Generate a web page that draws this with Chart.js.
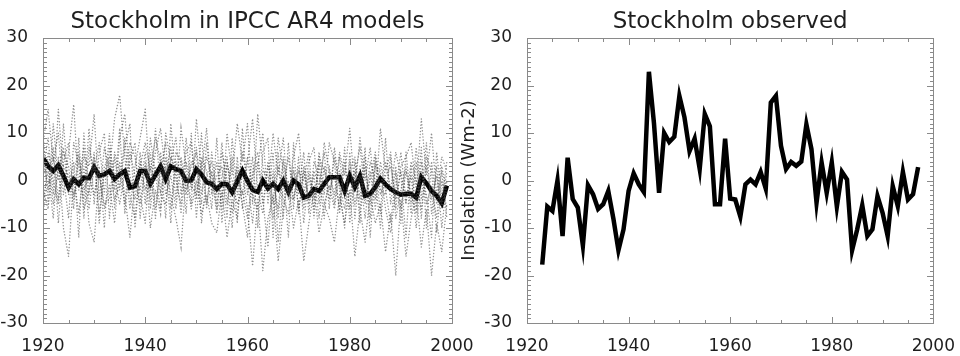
<!DOCTYPE html>
<html>
<head>
<meta charset="utf-8">
<script src="https://cdn.jsdelivr.net/npm/chart.js@4.4.1/dist/chart.umd.min.js"></script>
<style>
  html, body { margin: 0; padding: 0; background: #fff; }
  #wrap { position: relative; width: 960px; height: 356px; overflow: hidden; }
  .panel { position: absolute; top: 0; height: 356px; }
  #left { left: 0; width: 480px; }
  #right { left: 440px; width: 520px; }
</style>
</head>
<body>
<div id="wrap">
  <div class="panel" id="left"><canvas id="modelChart" width="480" height="356"></canvas></div>
  <div class="panel" id="right"><canvas id="obsChart" width="520" height="356"></canvas></div>
</div>
<script>
// Insolation anomalies (Wm-2)
const modelStart = 1920;
const obsStart = 1923;

// multi-model mean (thick line), 1920-1999
const modelMean = [
  4.8, 3.0, 2.0, 3.2, 1.0, -1.5, 0.3, -0.8, 0.6, 0.5,
  2.8, 1.0, 1.3, 2.0, 0.3, 1.3, 2.0, -1.5, -1.2, 2.0,
  2.0, -0.7, 1.2, 3.0, 0.3, 3.0, 2.4, 2.0, -0.1, 0.0,
  2.4, 1.3, -0.4, -0.7, -1.8, -0.7, -0.8, -2.5, -0.2, 2.1,
  -0.1, -2.0, -2.4, 0.0, -1.7, -0.7, -1.8, 0.0, -2.4, 0.0,
  -0.8, -3.6, -3.2, -1.8, -2.2, -0.7, 0.7, 0.7, 0.7, -2.2,
  1.0, -1.4, 1.0, -3.2, -2.8, -1.4, 0.4, -0.8, -1.8, -2.5,
  -3.0, -2.8, -2.8, -3.6, 0.7, -0.6, -2.2, -3.2, -4.8, -1.1
];

// individual model runs (dotted), 1920-1999
const model1 = [
  8, 15, 4, 10, -3, 6, 16, -2, 5, 3,
  14, -4, 7, 2, 13, 18, 5, -6, 3, 9,
  15, -2, 6, 11, 1, 7, -4, 11, 3, -5,
  13, 2, 11, -3, 4, -6, 10, 1, 12, 4,
  12, -5, 14, 3, -2, 10, 1, 9, -4, 5,
  10, -3, 4, 7, -5, 8, 2, -3, 6, 1,
  11, -2, 9, 0, 7, -4, 11, 2, 6, -6,
  3, 5, 8, -2, 13, 1, 10, -3, 5, 2
];
const model2 = [
  -4, 2, -8, 5, -10, -16, 1, -7, 3, -9,
  -13, 2, -6, -1, -9, 4, -3, -12, 0, -5,
  3, -10, -2, -7, 5, -3, -8, -14, 1, -6,
  0, -7, -3, -9, -11, -2, -12, -4, -8, 2,
  -6, -18, -4, -19, -8, -3, -17, -6, 0, -10,
  -4, -17, -9, -2, -11, -5, -8, -13, -3, -9,
  -2, -16, -6, -13, -3, -9, -5, -15, -7, -20,
  -4, -16, -8, -3, -14, -6, -20, -9, -15, -5
];
const model3 = [
  10, -5, 12, 0, 6, 3, -6, 9, -8, 7,
  2, 8, -3, 10, -6, 9, 14, 1, -4, 6,
  -5, 9, 1, -6, 10, 4, 9, -3, 6, 8,
  -4, 10, -6, 6, -3, 8, -5, 5, -9, 11,
  -3, 5, -10, 6, 9, -12, 6, -8, 8, -6,
  5, -9, 1, -6, 6, -3, 8, 4, -7, 4,
  -6, 4, -9, 5, -8, 4, -7, 9, -5, 3,
  -9, 6, -5, 7, -4, 8, -7, 3, -10, 0
];
const model4 = [
  2, 9, -3, 15, 1, -8, 8, 3, -4, 11,
  -5, 6, 10, -8, 5, -2, 7, 12, -10, 3,
  8, 2, 9, 4, -8, 12, 0, -5, 9, -2,
  7, -3, 5, 1, -7, 6, 0, -10, 5, -6,
  4, 13, -2, -7, 4, -5, 9, 2, -12, 8,
  -7, 3, -4, 2, -1, 6, -6, 7, -2, -10,
  6, -8, 3, -5, 4, 0, -10, 4, -2, 6,
  1, -12, 3, -6, 7, -10, 4, -5, 2, -8
];
const model5 = [
  -8, 6, 0, -5, 12, -2, 4, -12, 10, -3,
  6, -9, 3, 5, -2, 11, -7, 4, 8, -8,
  4, -4, 11, -2, 3, -9, 6, 4, -7, 10,
  -8, 5, 2, -6, 9, -9, 4, -3, 3, -5,
  -12, 2, 6, -4, -14, 2, -8, 4, -3, 2,
  -3, 6, -7, 4, 1, -8, 3, -5, 5, -4,
  2, 5, -4, 7, -12, 3, 2, -6, -11, -2,
  6, -4, 1, -10, 2, -3, -12, 6, -4, 4
];
const model6 = [
  5, -2, 7, -9, 4, 8, -4, 5, -2, 1,
  -3, 3, -10, 7, 1, -5, 2, 8, 5, -3,
  -9, 6, -6, 2, 8, -6, 4, 1, -3, 4,
  3, -5, 8, -2, 1, 3, -8, 9, -3, 6,
  0, -9, 3, 10, -5, 6, -13, -1, 5, -4,
  2, 0, 6, -8, 5, 2, -2, 1, -6, 7,
  -9, 1, 7, -3, 0, 6, -2, -3, 5, -8,
  -2, 3, -7, 4, -8, 5, 2, -11, 0, -6
];
const model7 = [
  1, 4, -5, 2, 7, -3, 2, 6, -6, -2,
  5, -7, 2, 4, -4, -1, 9, -3, -8, 4,
  -2, 3, -8, 6, -3, 1, -6, 5, -2, 3,
  6, -9, 1, 4, -5, 1, 5, -7, 2, -3,
  5, -3, -6, 2, 1, -8, 3, -4, -7, 3,
  -6, 2, -5, 1, -8, 3, -4, 5, -1, -6,
  4, -5, 1, -8, 2, -6, 4, -2, -9, 1,
  -6, 2, -3, -7, 4, -5, -1, -8, 3, -3
];
const model8 = [
  -2, -6, 5, -4, 3, 1, -3, 0, 7, -6,
  3, 1, -5, -4, 6, 2, -5, 6, 1, -2,
  6, -6, 3, -3, -5, 5, 2, -7, 4, -1,
  -3, 4, -5, 2, -6, -3, 3, 0, -5, -2,
  -8, 1, 4, -5, 3, 0, -6, 5, -3, -4,
  3, -6, 2, -4, 3, -5, -1, -6, 2, -3,
  -3, 2, -6, 3, -5, 5, -3, 1, 3, -4,
  2, -5, 4, 0, -6, 3, -4, 1, -6, 2
];
const modelRuns = [model1, model2, model3, model4, model5, model6, model7, model8];

// Stockholm observations, 1923-1997
const observed = [
  -17.7, -5.5, -6.4, 0, -11.7, 4.8, -3.9, -5.7, -13.7, -1.0,
  -2.9, -6, -5, -2.2, -8, -14.7, -10.3, -2.2, 1.5, -0.8,
  -2.4, 22.9, 12, -2.6, 10, 8.1, 9.2, 17.8, 13.3, 6.2,
  8.8, 2.4, 14, 11.4, -5, -5, 8.8, -3.8, -4, -7.6,
  -0.8, 0.2, -0.8, 1.8, -1.7, 16.4, 17.8, 7.3, 2.4, 3.9,
  3.1, 4, 11.8, 6.6, -4.7, 3.8, -2.6, 3.8, -5.5, 1.8,
  0.2, -14.7, -10.3, -5.2, -11.7, -10.3, -3.3, -6.8, -11.7, -1.2,
  -5.4, 1.8, -4, -2.9, 2.8
];

const xTicks = [1920, 1940, 1960, 1980, 2000];
const yTicks = [-30, -20, -10, 0, 10, 20, 30];

const toPoints = (vals, start) => vals.map((v, i) => ({ x: start + i, y: v }));

const FONT = '"DejaVu Sans", sans-serif';
const INK = '#1e1e1e';

// box around the plot with inward ticks on all four sides, plus the panel title
const frameTicks = {
  id: 'frameTicks',
  afterDraw(chart, args, opts) {
    const { ctx, chartArea: a, scales } = chart;
    const xs = scales.x, ys = scales.y;
    const l = Math.round(a.left), t = Math.round(a.top);
    const r = Math.round(a.right), b = Math.round(a.bottom);
    ctx.save();
    ctx.fillStyle = '#8a8a8a';
    // frame
    ctx.fillRect(l, t, r - l + 1, 1);
    ctx.fillRect(l, b, r - l + 1, 1);
    ctx.fillRect(l, t, 1, b - t + 1);
    ctx.fillRect(r, t, 1, b - t + 1);
    // x ticks every 5 years, longer every 20
    for (let yr = 1920; yr <= 2000; yr += 5) {
      const px = Math.round(xs.getPixelForValue(yr));
      const len = yr % 20 === 0 ? 6 : 3;
      ctx.fillRect(px, b - len, 1, len);
      ctx.fillRect(px, t + 1, 1, len);
    }
    // y ticks every unit, longer every 10
    for (let v = -30; v <= 30; v++) {
      const py = Math.round(ys.getPixelForValue(v));
      const len = v % 10 === 0 ? 6 : 3;
      ctx.fillRect(l + 1, py, len, 1);
      ctx.fillRect(r - len, py, len, 1);
    }

    ctx.fillStyle = INK;
    ctx.font = '23px ' + FONT;
    ctx.textAlign = 'center';
    ctx.textBaseline = 'alphabetic';
    ctx.fillText(opts.text, (a.left + a.right) / 2, 28);
    ctx.restore();
  }
};

function makeOptions(title, yWidth, padRight, yTitle) {
  return {
    responsive: false,
    animation: false,
    layout: { padding: { top: 38, right: padRight, bottom: 0, left: 0 } },
    plugins: {
      legend: { display: false },
      tooltip: { enabled: false },
      frameTicks: { text: title }
    },
    elements: { point: { radius: 0 } },
    scales: {
      x: {
        type: 'linear', min: 1920, max: 2000,
        grid: { display: false },
        border: { display: false },
        afterBuildTicks: s => { s.ticks = xTicks.map(v => ({ value: v })); },
        ticks: {
          color: INK, font: { family: FONT, size: 17 }, padding: 5, maxRotation: 0,
          callback: v => String(v)
        },
        afterFit: s => { s.height = 33; }
      },
      y: {
        min: -30, max: 30,
        grid: { display: false },
        border: { display: false },
        afterBuildTicks: s => { s.ticks = yTicks.map(v => ({ value: v })); },
        ticks: { color: INK, font: { family: FONT, size: 17 }, padding: 7 },
        title: yTitle ? {
          display: true, text: yTitle, color: INK,
          font: { family: FONT, size: 18 }, padding: { top: 19, bottom: 0 }
        } : { display: false },
        afterFit: s => { s.width = yWidth; }
      }
    }
  };
}

const runSets = modelRuns.map(run => ({
  data: toPoints(run, modelStart),
  borderColor: 'rgba(70,70,70,0.6)',
  borderWidth: 1.4,
  borderDash: [0.1, 3],
  borderCapStyle: 'round',
  fill: false
}));

new Chart(document.getElementById('modelChart'), {
  type: 'line',
  data: {
    datasets: [
      ...runSets,
      { data: toPoints(modelMean, modelStart), borderColor: '#000', borderWidth: 4.5, fill: false }
    ]
  },
  options: makeOptions('Stockholm in IPCC AR4 models', 43, 28, null),
  plugins: [frameTicks]
});

new Chart(document.getElementById('obsChart'), {
  type: 'line',
  data: {
    datasets: [
      { data: toPoints(observed, obsStart), borderColor: '#000', borderWidth: 4.5, fill: false }
    ]
  },
  options: makeOptions('Stockholm observed', 87, 24, 'Insolation (Wm-2)'),
  plugins: [frameTicks]
});
</script>
</body>
</html>
